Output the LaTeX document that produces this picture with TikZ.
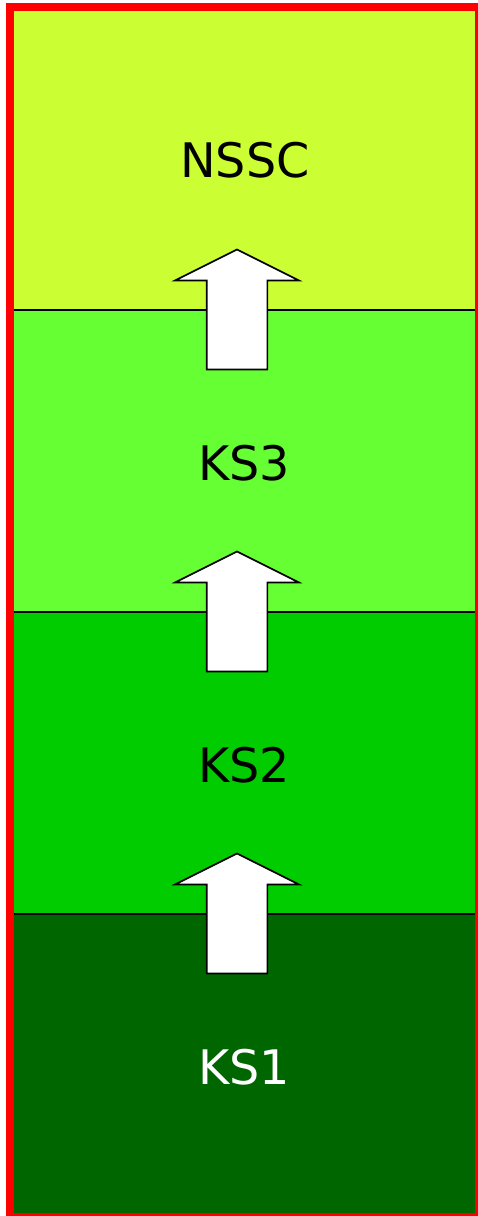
\documentclass[tikz,border=0pt]{standalone}
\usepackage{fontspec}
\setmainfont{DejaVu Sans}
\definecolor{nssc}{HTML}{CCFF33}
\definecolor{ksthree}{HTML}{66FF33}
\definecolor{kstwo}{HTML}{00CC00}
\definecolor{ksone}{HTML}{006600}
\begin{document}
\begin{tikzpicture}[x=1pt,y=-1pt,
  layer/.style={fill=#1,draw=none},
  divider/.style={draw=black,line width=2pt},
  label/.style={font=\fontsize{47.6}{50}\selectfont,inner sep=0pt},
  uparrow/.pic={
    \draw[fill=white,draw=black,line width=1.6pt,line join=miter]
      (0,0) -- (62,31) -- (30.3,31) -- (30.3,120) -- (-30.3,120)
      -- (-30.3,31) -- (-62,31) -- cycle;
  }]
  \useasboundingbox (0,0) rectangle (477,1216);
  % stages, top to bottom
  \fill[layer=nssc]    (10,7)   rectangle (479,310);
  \fill[layer=ksthree] (10,310) rectangle (479,612);
  \fill[layer=kstwo]   (10,612) rectangle (479,914);
  \fill[layer=ksone]   (10,914) rectangle (479,1217);
  \draw[divider] (10,310) -- (479,310);
  \draw[divider] (10,612) -- (479,612);
  \draw[divider] (10,914) -- (479,914);
  % stage names
  \node[label,text=black] (nssc) at (245,160)  {NSSC};
  \node[label,text=black] (ks3)  at (244,463)  {KS3};
  \node[label,text=black] (ks2)  at (244,765)  {KS2};
  \node[label,text=white] (ks1)  at (244,1067) {KS1};
  % progression arrows
  \pic at (237,249.5) {uparrow};
  \pic at (237,551.5) {uparrow};
  \pic at (237,853.5) {uparrow};
  % outer frame
  \draw[red,line width=8pt] (10,7) rectangle (479,1217);
\end{tikzpicture}
\end{document}
